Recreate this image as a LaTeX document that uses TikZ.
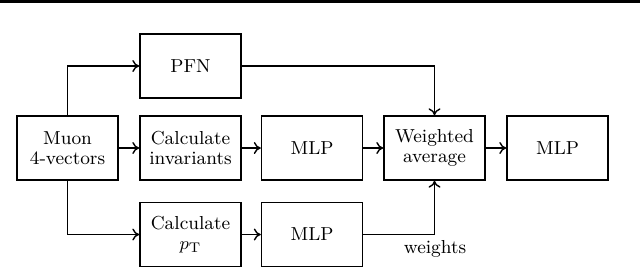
\documentclass[tikz,border=0pt]{standalone}
\usetikzlibrary{arrows.meta}
\begin{document}
\begin{tikzpicture}[x=0.5pt,y=-0.5pt,
  font=\fontsize{9.4}{10}\selectfont,
  blk/.style={draw, line width=0.7pt, minimum width=50.5pt, minimum height=32pt, align=center, inner sep=1pt},
  conn/.style={line width=0.7pt, -{To[length=3.5pt,width=6pt]}}]
\useasboundingbox (0,0) rectangle (640,269);
\fill (0,0) rectangle (640,3);
\node[blk] (muon) at (67.5,148) {Muon\\4-vectors};
\node[blk] (pfn) at (190.5,66) {PFN};
\node[blk] (inv) at (190.5,148) {Calculate\\invariants};
\node[blk] (calcpt) at (190.5,234.5) {Calculate\\$p_{\mathrm{T}}$};
\node[blk] (mlpa) at (312,148) {MLP};
\node[blk] (mlpb) at (312,234.5) {MLP};
\node[blk] (wavg) at (434.5,148) {Weighted\\average};
\node[blk] (mlpc) at (557.5,148) {MLP};
\node (wlab) at (435,249) {weights};
\draw[conn] (muon.north) |- (pfn.west);
\draw[conn] (muon.south) |- (calcpt.west);
\draw[conn] (muon) -- (inv);
\draw[conn] (inv) -- (mlpa);
\draw[conn] (mlpa) -- (wavg);
\draw[conn] (wavg) -- (mlpc);
\draw[conn] (calcpt) -- (mlpb);
\draw[conn] (pfn.east) -| (wavg.north);
\draw[conn] (mlpb.east) -| (wavg.south);
\end{tikzpicture}
\end{document}
